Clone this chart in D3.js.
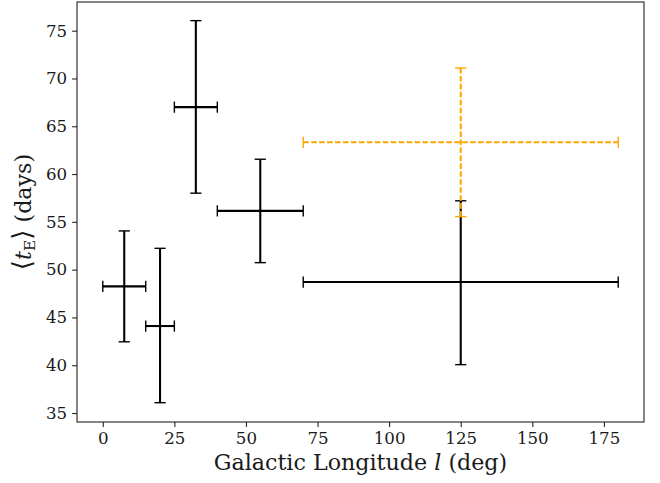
<!DOCTYPE html>
<html>
<head>
<meta charset="utf-8">
<script src="https://cdn.jsdelivr.net/npm/d3@7"></script>
<style>
  html, body { margin: 0; padding: 0; background: #fff; }
  svg { display: block; }
</style>
</head>
<body>
<svg id="chart" width="660" height="483"></svg>
<script>
// ---- data ----
const blackX     = [7.5, 20, 32.5, 55, 125];
const blackXLo   = [0, 15, 25, 40, 70];
const blackXHi   = [15, 25, 40, 70, 180];
const blackY     = [48.25, 44.1, 67.0, 56.15, 48.7];
const blackYLo   = [42.45, 36.08, 58.0, 50.73, 40.06];
const blackYHi   = [54.05, 52.23, 76.05, 61.55, 57.2];

const orangeX    = [125];
const orangeXLo  = [70];
const orangeXHi  = [180];
const orangeY    = [63.32];
const orangeYLo  = [55.55];
const orangeYHi  = [71.1];

const xTicks = [0, 25, 50, 75, 100, 125, 150, 175];
const yTicks = [35, 40, 45, 50, 55, 60, 65, 70, 75];

// ---- layout ----
const svg = d3.select("#chart");
const L = 77, R = 644, T = 2, B = 422;
const font = "'DejaVu Serif', serif";

const x = d3.scaleLinear().domain([-9, 189]).range([L, R]);
const y = d3.scaleLinear().domain([34.06, 78.0]).range([B, T]);

// series
function drawSeries(g, X, XLo, XHi, Y, YLo, YHi, color, dash) {
  const cap = 5.6;
  const lw = 2.08;
  X.forEach((xv, i) => {
    const grp = g.append("g");
    grp.append("line")
      .attr("x1", x(XLo[i])).attr("x2", x(XHi[i]))
      .attr("y1", y(Y[i])).attr("y2", y(Y[i]))
      .attr("stroke", color).attr("stroke-width", lw)
      .attr("stroke-dasharray", dash || null);
    grp.append("line")
      .attr("x1", x(xv)).attr("x2", x(xv))
      .attr("y1", y(YLo[i])).attr("y2", y(YHi[i]))
      .attr("stroke", color).attr("stroke-width", lw)
      .attr("stroke-dasharray", dash || null);
    [XLo[i], XHi[i]].forEach(v => {
      grp.append("line")
        .attr("x1", x(v)).attr("x2", x(v))
        .attr("y1", y(Y[i]) - cap).attr("y2", y(Y[i]) + cap)
        .attr("stroke", color).attr("stroke-width", 1.4);
    });
    [YLo[i], YHi[i]].forEach(v => {
      grp.append("line")
        .attr("x1", x(xv) - cap).attr("x2", x(xv) + cap)
        .attr("y1", y(v)).attr("y2", y(v))
        .attr("stroke", color).attr("stroke-width", 1.4);
    });
  });
}

const plot = svg.append("g");
drawSeries(plot, blackX, blackXLo, blackXHi, blackY, blackYLo, blackYHi, "#000", null);
drawSeries(plot, orangeX, orangeXLo, orangeXHi, orangeY, orangeYLo, orangeYHi, "#FFA500", "5.55,2.4");

// axes
const xAxis = d3.axisBottom(x).tickValues(xTicks).tickSize(4.9).tickPadding(4.9).tickFormat(d3.format("d"));
const yAxis = d3.axisLeft(y).tickValues(yTicks).tickSize(4.9).tickPadding(4.9).tickFormat(d3.format("d"));

const gx = svg.append("g").attr("transform", `translate(0,${B})`).call(xAxis);
const gy = svg.append("g").attr("transform", `translate(${L},0)`).call(yAxis);
[gx, gy].forEach(g => {
  g.select(".domain").remove();
  g.selectAll(".tick line").attr("stroke", "#222").attr("stroke-width", 1.1);
  g.selectAll(".tick text").attr("fill", "#1a1a1a").style("font-family", font).style("font-size", "16.67px");
});

// frame
svg.append("rect")
  .attr("x", L).attr("y", T).attr("width", R - L).attr("height", B - T)
  .attr("fill", "none").attr("stroke", "#222").attr("stroke-width", 1.1);

// x label
const xl = svg.append("text")
  .attr("x", (L + R) / 2).attr("y", 470)
  .attr("text-anchor", "middle")
  .style("font-family", font).style("font-size", "22.2px").attr("fill", "#1a1a1a");
xl.append("tspan").text("Galactic Longitude ");
xl.append("tspan").style("font-style", "italic").text("l");
xl.append("tspan").text(" (deg)");

// y label
const yl = svg.append("text")
  .attr("transform", `translate(31,${(T + B) / 2}) rotate(-90)`)
  .attr("text-anchor", "middle")
  .style("font-family", font).style("font-size", "22.2px").attr("fill", "#1a1a1a");
yl.append("tspan").style("font-family", "'DejaVu Sans', sans-serif").style("font-size", "26px").text("⟨");
yl.append("tspan").style("font-style", "italic").text("t");
yl.append("tspan").attr("dy", 3.5).style("font-size", "15.5px").text("E");
yl.append("tspan").attr("dy", -3.5).style("font-family", "'DejaVu Sans', sans-serif").style("font-size", "26px").text("⟩");
yl.append("tspan").text(" (days)");
</script>
</body>
</html>
